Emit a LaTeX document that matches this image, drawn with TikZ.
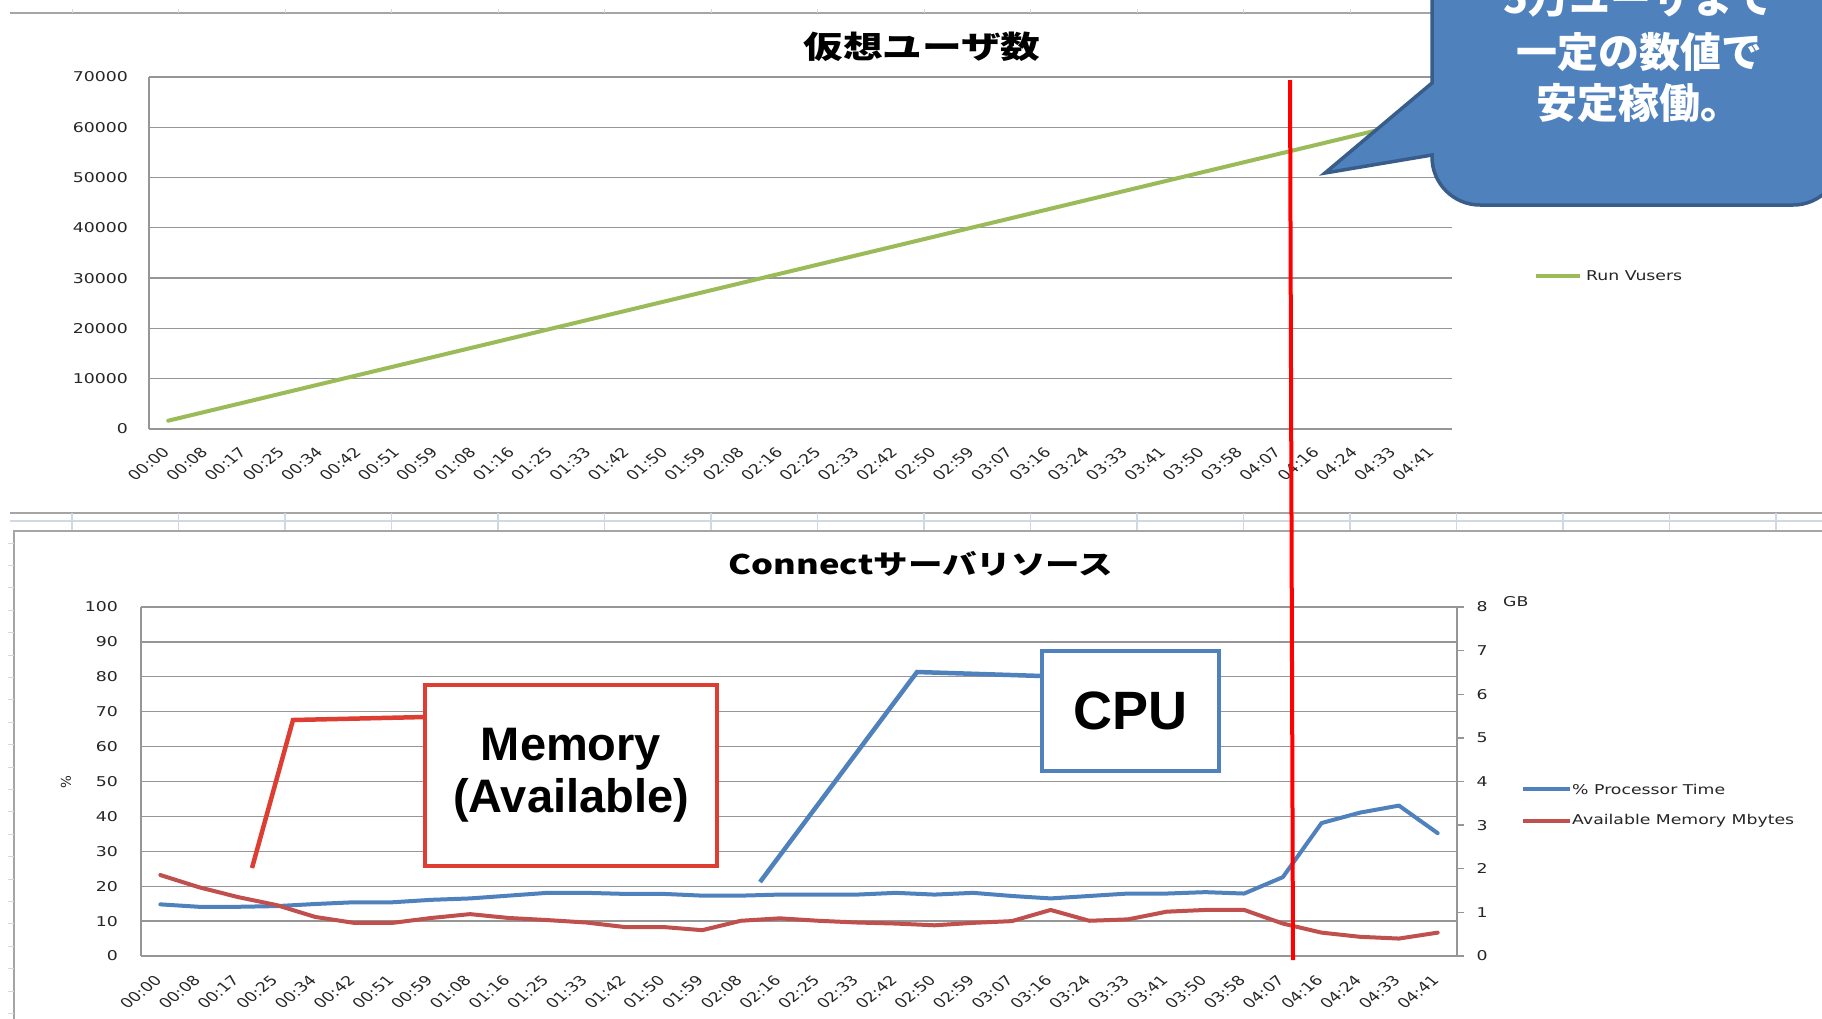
\documentclass[tikz,border=0pt]{standalone}
\usepackage{fontspec}
\usepackage{graphicx}
\setmainfont{DejaVu Sans}
\newfontfamily\jpfont{Noto Sans CJK JP}
\newfontfamily\annfont{Liberation Sans}
\definecolor{gridgray}{RGB}{150,150,150}
\definecolor{sheetgray}{RGB}{165,165,165}
\definecolor{sheetblue}{RGB}{208,215,229}
\definecolor{sergreen}{RGB}{155,187,89}
\definecolor{serblue}{RGB}{79,129,189}
\definecolor{serred}{RGB}{192,80,77}
\definecolor{memred}{RGB}{222,62,50}
\definecolor{calfill}{RGB}{79,129,189}
\definecolor{caledge}{RGB}{56,93,138}
\newcommand{\stretchtxt}[1]{\scalebox{1.28}[1]{#1}}
\tikzset{
  gridline/.style={draw=gridgray, line width=1.3pt},
  series/.style={line width=4pt, line join=round, line cap=round},
  legline/.style={line width=4pt},
  axlbl/.style={anchor=east, inner sep=0pt, text=black!85, font=\fontsize{13.5}{16}\selectfont},
  leglbl/.style={anchor=west, inner sep=0pt, text=black!85, font=\fontsize{13.5}{16}\selectfont},
  xlbl/.style={rotate=45, anchor=east, inner sep=0pt, transform shape, text=black!85, font=\fontsize{13.5}{16}\selectfont},
  annbox/.style={draw, line width=4.5pt, fill=white, inner sep=0pt, align=center},
}
\begin{document}
\begin{tikzpicture}[x=1pt,y=-1pt]
\useasboundingbox (0,0) rectangle (1822,1018);
\clip (0,0) rectangle (1822,1018);
\fill[white] (0,0) rectangle (1822,1018);

% ---------- spreadsheet lines ----------
\draw[sheetgray, line width=1.5pt] (10,13) -- (1822,13);
\foreach \k in {0,...,16} \draw[sheetblue, line width=1pt] ({72+106.5*\k},9) -- ({72+106.5*\k},13);
\draw[sheetgray, line width=2pt] (10,513) -- (1822,513);
\draw[sheetblue, line width=1.2pt] (10,521) -- (1822,521);
\foreach \k in {0,...,16} \draw[sheetblue, line width=1.2pt] ({72+106.5*\k},513) -- ({72+106.5*\k},531);
\draw[sheetgray, line width=1.5pt] (14,1030) -- (14,531) -- (1830,531);
\foreach \k in {0,...,21} \draw[sheetblue, line width=1pt] (8,{543+22.4*\k}) -- (14,{543+22.4*\k});

% ---------- top chart ----------
\node[inner sep=0pt, font=\jpfont\bfseries\fontsize{31}{36}\selectfont] (ttitle) at (922,46.5) {\stretchtxt{仮想ユーザ数}};
\foreach \v [count=\k from 0] in {0,10000,20000,30000,40000,50000,60000,70000} {
  \draw[gridline] (149,{429-50.3*\k}) -- (1452,{429-50.3*\k});
  \node[axlbl] (ty\k) at (128,{429-50.3*\k}) {\stretchtxt{\v}};
}
\draw[gridline] (149,77) -- (149,429);
\foreach \t [count=\i from 0] in {00:00,00:08,00:17,00:25,00:34,00:42,00:51,00:59,01:08,01:16,01:25,01:33,01:42,01:50,01:59,02:08,02:16,02:25,02:33,02:42,02:50,02:59,03:07,03:16,03:24,03:33,03:41,03:50,03:58,04:07,04:16,04:24,04:33,04:41} {
  \begin{scope}[shift={({149+38.32*(\i+0.5)-2},450)}, xscale=1.28]
    \node[xlbl] (tx\i) at (0,0) {\t};
  \end{scope}
}
\draw[series, sergreen] (168.2,420.7) -- (1432.7,116.9);
\draw[legline, sergreen] (1536,276) -- (1580,276);
\node[leglbl] (tleg) at (1586,276) {\stretchtxt{Run Vusers}};

% ---------- bottom chart ----------
\node[inner sep=0pt, font=\jpfont\bfseries\fontsize{27}{32}\selectfont] (btitle) at (921,564) {\stretchtxt{Connectサーバリソース}};
\foreach \k in {0,...,10} {
  \draw[gridline] (141,{956-34.9*\k}) -- (1457,{956-34.9*\k});
  \node[axlbl] (by\k) at (118,{956-34.9*\k}) {\stretchtxt{\number\numexpr\k*10\relax}};
}
\draw[gridline] (141,607) -- (141,956);
\draw[gridline] (1457,607) -- (1457,956);
\foreach \j in {0,...,8} {
  \draw[gridline] (1457,{956-43.625*\j}) -- (1464,{956-43.625*\j});
  \node[inner sep=0pt, text=black!85, font=\fontsize{13.5}{16}\selectfont] (bz\j) at (1482,{956-43.625*\j}) {\stretchtxt{\j}};
}
\node[anchor=west, inner sep=0pt, text=black!85, font=\fontsize{13.5}{16}\selectfont] (gb) at (1503,602) {\stretchtxt{GB}};
\node[rotate=90, inner sep=0pt, text=black!85, font=\fontsize{13.5}{16}\selectfont] (pct) at (66,782) {\%};
\foreach \t [count=\i from 0] in {00:00,00:08,00:17,00:25,00:34,00:42,00:51,00:59,01:08,01:16,01:25,01:33,01:42,01:50,01:59,02:08,02:16,02:25,02:33,02:42,02:50,02:59,03:07,03:16,03:24,03:33,03:41,03:50,03:58,04:07,04:16,04:24,04:33,04:41} {
  \begin{scope}[shift={({141+38.706*(\i+0.5)-2},978)}, xscale=1.28]
    \node[xlbl] (bx\i) at (0,0) {\t};
  \end{scope}
}
% series
\draw[series, serblue] ({141+38.706*0.5},{956-3.49*14.8})
  \foreach \v [count=\i from 1] in {14.1,14.1,14.3,14.9,15.4,15.4,16.1,16.5,17.3,18.1,18.1,17.8,17.8,17.3,17.3,17.6,17.6,17.6,18.1,17.6,18.1,17.2,16.5,17.2,17.9,17.9,18.3,17.9,22.6,38.1,41.1,43.1,35.2} { -- ({141+38.706*(\i+0.5)},{956-3.49*\v}) };
\draw[series, serred] ({141+38.706*0.5},{956-3.49*23.2})
  \foreach \v [count=\i from 1] in {19.7,16.9,14.6,11.2,9.5,9.5,10.9,12.0,10.9,10.3,9.6,8.3,8.3,7.4,10.1,10.8,10.1,9.6,9.3,8.8,9.5,10.0,13.2,10.1,10.5,12.7,13.2,13.2,9.3,6.7,5.5,5.0,6.7} { -- ({141+38.706*(\i+0.5)},{956-3.49*\v}) };
% legend
\draw[legline, serblue] (1523,789) -- (1570,789);
\node[leglbl] (bleg1) at (1572,789) {\stretchtxt{\% Processor Time}};
\draw[legline, serred] (1523,821) -- (1570,821);
\node[leglbl] (bleg2) at (1572,821) {\stretchtxt{Available Memory Mbytes}};

% ---------- annotations ----------
\node[annbox, draw=memred, minimum width=292pt, minimum height=181pt,
      font=\annfont\bfseries\fontsize{47}{52}\selectfont] (mem) at (571,775.5) {Memory\\(Available)};
\coordinate (memjoin) at (425,717);
\coordinate (membend) at (293,720);
\coordinate (memtip) at (252,868);
\draw[memred, line width=4.5pt, line join=miter] (memjoin) -- (membend) -- (memtip);

\node[annbox, draw=serblue, minimum width=177pt, minimum height=120pt,
      font=\annfont\bfseries\fontsize{54}{60}\selectfont] (cpu) at (1130.5,711) {CPU};
\coordinate (cpujoin) at (1042,676);
\coordinate (cpubend) at (917,672);
\coordinate (cputip) at (760,882);
\draw[serblue, line width=4.5pt, line join=miter] (cpujoin) -- (cpubend) -- (cputip);

\draw[red, line width=4pt] (1290,80) -- (1293,960);

% callout
\draw[fill=calfill, draw=caledge, line width=3.5pt, line join=miter]
  (1432,-40) -- (1432,83) -- (1325,173) -- (1432,155) -- (1432,157)
  .. controls (1432,183.5) and (1453.5,205) .. (1480,205) -- (1793,205)
  .. controls (1819.5,205) and (1841,183.5) .. (1841,157) -- (1841,-40) -- cycle;
\node[inner sep=0pt, text=white, font=\jpfont\bfseries\fontsize{41}{48}\selectfont] (cl1) at (1639,-1) {5万ユーザまで};
\node[inner sep=0pt, text=white, font=\jpfont\bfseries\fontsize{41}{48}\selectfont] (cl2) at (1639,52) {一定の数値で};
\node[inner sep=0pt, text=white, font=\jpfont\bfseries\fontsize{41}{48}\selectfont] (cl3) at (1639,103) {安定稼働。};
\end{tikzpicture}
\end{document}
